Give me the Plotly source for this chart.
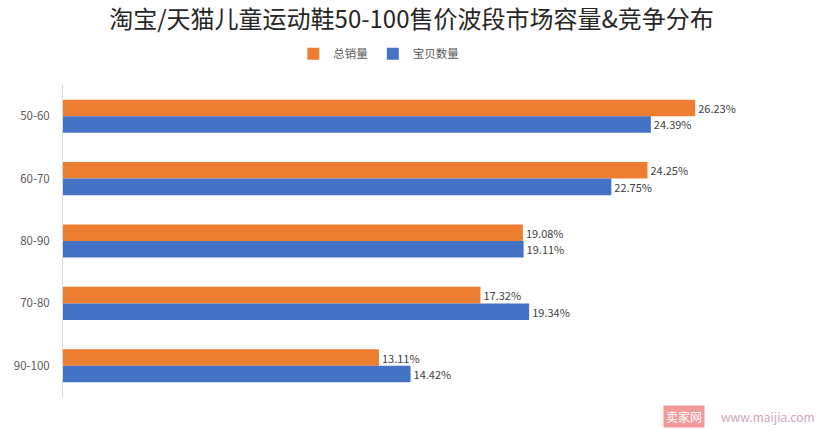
import plotly.graph_objects as go

categories = ["50-60", "60-70", "80-90", "70-80", "90-100"]
sales_share = [26.23, 24.25, 19.08, 17.32, 13.11]   # 总销量
items_share = [24.39, 22.75, 19.11, 19.34, 14.42]   # 宝贝数量

title_text = "淘宝/天猫儿童运动鞋50-100售价波段市场容量&竞争分布"
name_sales = "总销量"
name_items = "宝贝数量"

FONT = "Noto Sans CJK SC, Noto Sans, sans-serif"
ORANGE = "#ED7D31"
BLUE = "#4472C4"

fig = go.Figure()
fig.add_trace(go.Bar(
    y=categories, x=sales_share, orientation="h", name=name_sales,
    marker=dict(color=ORANGE, line=dict(width=0)),
    text=[f"{v:.2f}%" for v in sales_share], textposition="outside",
    textfont=dict(size=11, color="#404040", family=FONT),
    cliponaxis=False,
))
fig.add_trace(go.Bar(
    y=categories, x=items_share, orientation="h", name=name_items,
    marker=dict(color=BLUE, line=dict(width=0)),
    text=[f"{v:.2f}%" for v in items_share], textposition="outside",
    textfont=dict(size=11, color="#404040", family=FONT),
    cliponaxis=False,
))

fig.update_layout(
    width=823, height=429,
    paper_bgcolor="white", plot_bgcolor="white",
    margin=dict(l=63, r=8, t=85, b=32, autoexpand=False),
    barmode="group", bargap=0.47, bargroupgap=0,
    font=dict(family=FONT, color="#595959"),
    title=dict(text=title_text, x=0.5, xanchor="center", y=0.955, yanchor="middle",
               font=dict(size=24, color="#262626", family=FONT)),
    legend=dict(orientation="h", x=0.42, xanchor="center", y=1.10, yanchor="middle",
                font=dict(size=11.5, color="#595959", family=FONT),
                itemwidth=30, traceorder="normal"),
    showlegend=True,
)
fig.update_xaxes(range=[0, 31.2], showticklabels=False, showgrid=False, zeroline=False,
                 showline=False, ticks="", automargin=False)
fig.update_yaxes(categoryorder="array", categoryarray=categories, autorange="reversed",
                 showline=True, linecolor="#D9D9D9", linewidth=1, ticks="",
                 ticklabelstandoff=10, automargin=False,
                 tickfont=dict(size=11.5, color="#595959", family=FONT), showgrid=False)

# watermark
fig.add_annotation(xref="paper", yref="paper", x=(663-63)/752, y=-0.062, xanchor="left", yanchor="middle",
                   text="卖家网", showarrow=False, bgcolor="#F29A9A",
                   font=dict(size=12, color="white", family=FONT), borderpad=2)
fig.add_annotation(xref="paper", yref="paper", x=(719-63)/752, y=-0.062, xanchor="left", yanchor="middle",
                   text="www.maijia.com", showarrow=False,
                   font=dict(size=12, color="#D4A3BC", family=FONT))

fig.write_html("out.html", config={"displayModeBar": False},
               post_script="document.body.style.margin='0';")
